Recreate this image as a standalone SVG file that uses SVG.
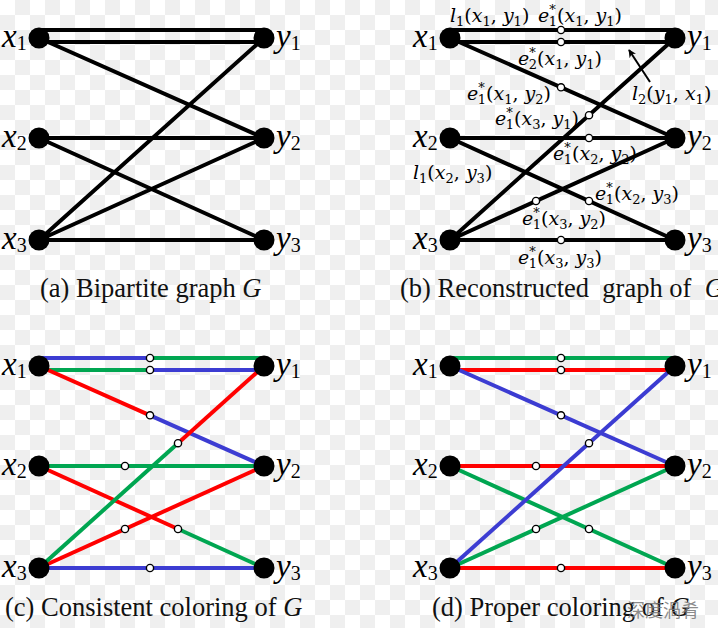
<svg xmlns="http://www.w3.org/2000/svg" width="718" height="628" viewBox="0 0 718 628">
<defs>
<pattern id="chk" x="0" y="0" width="30" height="30" patternUnits="userSpaceOnUse">
<rect width="30" height="30" fill="#ffffff"/>
<rect x="15" y="0" width="15" height="15" fill="#efefef"/>
<rect x="0" y="15" width="15" height="15" fill="#efefef"/>
</pattern>
<marker id="ah" viewBox="0 0 10 10" refX="9" refY="5" markerWidth="8" markerHeight="8" markerUnits="userSpaceOnUse" orient="auto">
<path d="M0,0 L10,5 L0,10 L3,5 Z" fill="#000"/>
</marker>
<style>
.e{fill:none;stroke-width:4;stroke-linecap:butt}
.k{stroke:#000}
.r{stroke:#ff0000}
.g{stroke:#00a651}
.b{stroke:#3c3cd2}
.n{fill:#000}
.c{fill:#fff;stroke:#000;stroke-width:1.4}
.nl{font-family:"Liberation Serif","Times New Roman",serif;font-style:italic;font-size:33px;fill:#000}
.ns{font-style:normal;font-size:20px}
.cap{font-family:"Liberation Serif","Times New Roman",serif;font-size:26.5px;fill:#111}
.lb{font-family:"DejaVu Serif",serif;font-size:19px;fill:#000}
.it{font-style:italic}
.sb{font-size:13px}
.wm{font-family:"Noto Sans CJK SC",sans-serif;font-size:18px;fill:#777;fill-opacity:0.85}
</style>
</defs>
<rect width="718" height="628" fill="url(#chk)"/>

<!-- Panel (a) -->
<g id="panel-a">
<g id="a-connectors">
<path class="e k" d="M39,30 H264 M39,42 H264 M39,38 L264,138 M39,240 L264,38 M39,138 H264 M39,138 L264,240 M39,240 L264,138 M39,240 H264"/>
</g>
<g id="a-x1"><circle class="n" cx="39" cy="38" r="10.5"/><text class="nl" x="2" y="47">x<tspan class="ns" dy="3">1</tspan></text></g>
<g id="a-x2"><circle class="n" cx="39" cy="138" r="10.5"/><text class="nl" x="2" y="147">x<tspan class="ns" dy="3">2</tspan></text></g>
<g id="a-x3"><circle class="n" cx="39" cy="240" r="10.5"/><text class="nl" x="2" y="249">x<tspan class="ns" dy="3">3</tspan></text></g>
<g id="a-y1"><circle class="n" cx="264" cy="38" r="10.5"/><text class="nl" x="276" y="47">y<tspan class="ns" dy="3">1</tspan></text></g>
<g id="a-y2"><circle class="n" cx="264" cy="138" r="10.5"/><text class="nl" x="276" y="147">y<tspan class="ns" dy="3">2</tspan></text></g>
<g id="a-y3"><circle class="n" cx="264" cy="240" r="10.5"/><text class="nl" x="276" y="249">y<tspan class="ns" dy="3">3</tspan></text></g>
<text class="cap" x="40" y="297">(a) Bipartite graph <tspan font-style="italic">G</tspan></text>
</g>

<!-- Panel (b) -->
<g id="panel-b">
<g id="b-connectors">
<path class="e k" d="M450,30 H675 M450,42 H675 M450,38 L675,138 M450,240 L675,38 M450,138 H675 M450,138 L675,240 M450,240 L675,138 M450,240 H675"/>
<path d="M650,82 L629,50" fill="none" stroke="#000" stroke-width="2" marker-end="url(#ah)"/>
<circle class="c" cx="561" cy="30" r="3.6"/>
<circle class="c" cx="561" cy="42" r="3.6"/>
<circle class="c" cx="561" cy="87.3" r="3.6"/>
<circle class="c" cx="589" cy="115.2" r="3.6"/>
<circle class="c" cx="589" cy="138" r="3.6"/>
<circle class="c" cx="589" cy="201" r="3.6"/>
<circle class="c" cx="536" cy="201" r="3.6"/>
<circle class="c" cx="561" cy="240" r="3.6"/>
</g>
<g id="b-x1"><circle class="n" cx="450" cy="38" r="10.5"/><text class="nl" x="413" y="47">x<tspan class="ns" dy="3">1</tspan></text></g>
<g id="b-x2"><circle class="n" cx="450" cy="138" r="10.5"/><text class="nl" x="413" y="147">x<tspan class="ns" dy="3">2</tspan></text></g>
<g id="b-x3"><circle class="n" cx="450" cy="240" r="10.5"/><text class="nl" x="413" y="249">x<tspan class="ns" dy="3">3</tspan></text></g>
<g id="b-y1"><circle class="n" cx="675" cy="38" r="10.5"/><text class="nl" x="687" y="47">y<tspan class="ns" dy="3">1</tspan></text></g>
<g id="b-y2"><circle class="n" cx="675" cy="138" r="10.5"/><text class="nl" x="687" y="147">y<tspan class="ns" dy="3">2</tspan></text></g>
<g id="b-y3"><circle class="n" cx="675" cy="240" r="10.5"/><text class="nl" x="687" y="249">y<tspan class="ns" dy="3">3</tspan></text></g>
<g id="b-labels">
<text class="lb" x="450" y="22"><tspan class="it">l</tspan><tspan class="sb" dy="4">1</tspan><tspan dy="-4">(</tspan><tspan class="it">x</tspan><tspan class="sb" dy="4">1</tspan><tspan dy="-4">, </tspan><tspan class="it">y</tspan><tspan class="sb" dy="4">1</tspan><tspan dy="-4">)</tspan></text>
<text class="lb" x="538" y="22"><tspan class="it">e</tspan><tspan class="sb" dy="-8">*</tspan><tspan class="sb" dx="-7" dy="12">1</tspan><tspan dy="-4">(</tspan><tspan class="it">x</tspan><tspan class="sb" dy="4">1</tspan><tspan dy="-4">, </tspan><tspan class="it">y</tspan><tspan class="sb" dy="4">1</tspan><tspan dy="-4">)</tspan></text>
<text class="lb" x="518" y="65"><tspan class="it">e</tspan><tspan class="sb" dy="-8">*</tspan><tspan class="sb" dx="-7" dy="12">2</tspan><tspan dy="-4">(</tspan><tspan class="it">x</tspan><tspan class="sb" dy="4">1</tspan><tspan dy="-4">, </tspan><tspan class="it">y</tspan><tspan class="sb" dy="4">1</tspan><tspan dy="-4">)</tspan></text>
<text class="lb" x="467" y="100"><tspan class="it">e</tspan><tspan class="sb" dy="-8">*</tspan><tspan class="sb" dx="-7" dy="12">1</tspan><tspan dy="-4">(</tspan><tspan class="it">x</tspan><tspan class="sb" dy="4">1</tspan><tspan dy="-4">, </tspan><tspan class="it">y</tspan><tspan class="sb" dy="4">2</tspan><tspan dy="-4">)</tspan></text>
<text class="lb" x="632" y="100"><tspan class="it">l</tspan><tspan class="sb" dy="4">2</tspan><tspan dy="-4">(</tspan><tspan class="it">y</tspan><tspan class="sb" dy="4">1</tspan><tspan dy="-4">, </tspan><tspan class="it">x</tspan><tspan class="sb" dy="4">1</tspan><tspan dy="-4">)</tspan></text>
<text class="lb" x="495" y="125"><tspan class="it">e</tspan><tspan class="sb" dy="-8">*</tspan><tspan class="sb" dx="-7" dy="12">1</tspan><tspan dy="-4">(</tspan><tspan class="it">x</tspan><tspan class="sb" dy="4">3</tspan><tspan dy="-4">, </tspan><tspan class="it">y</tspan><tspan class="sb" dy="4">1</tspan><tspan dy="-4">)</tspan></text>
<text class="lb" x="553" y="160"><tspan class="it">e</tspan><tspan class="sb" dy="-8">*</tspan><tspan class="sb" dx="-7" dy="12">1</tspan><tspan dy="-4">(</tspan><tspan class="it">x</tspan><tspan class="sb" dy="4">2</tspan><tspan dy="-4">, </tspan><tspan class="it">y</tspan><tspan class="sb" dy="4">2</tspan><tspan dy="-4">)</tspan></text>
<text class="lb" x="413" y="179"><tspan class="it">l</tspan><tspan class="sb" dy="4">1</tspan><tspan dy="-4">(</tspan><tspan class="it">x</tspan><tspan class="sb" dy="4">2</tspan><tspan dy="-4">, </tspan><tspan class="it">y</tspan><tspan class="sb" dy="4">3</tspan><tspan dy="-4">)</tspan></text>
<text class="lb" x="595" y="200"><tspan class="it">e</tspan><tspan class="sb" dy="-8">*</tspan><tspan class="sb" dx="-7" dy="12">1</tspan><tspan dy="-4">(</tspan><tspan class="it">x</tspan><tspan class="sb" dy="4">2</tspan><tspan dy="-4">, </tspan><tspan class="it">y</tspan><tspan class="sb" dy="4">3</tspan><tspan dy="-4">)</tspan></text>
<text class="lb" x="522" y="225"><tspan class="it">e</tspan><tspan class="sb" dy="-8">*</tspan><tspan class="sb" dx="-7" dy="12">1</tspan><tspan dy="-4">(</tspan><tspan class="it">x</tspan><tspan class="sb" dy="4">3</tspan><tspan dy="-4">, </tspan><tspan class="it">y</tspan><tspan class="sb" dy="4">2</tspan><tspan dy="-4">)</tspan></text>
<text class="lb" x="518" y="264"><tspan class="it">e</tspan><tspan class="sb" dy="-8">*</tspan><tspan class="sb" dx="-7" dy="12">1</tspan><tspan dy="-4">(</tspan><tspan class="it">x</tspan><tspan class="sb" dy="4">3</tspan><tspan dy="-4">, </tspan><tspan class="it">y</tspan><tspan class="sb" dy="4">3</tspan><tspan dy="-4">)</tspan></text>
</g>
<text class="cap" x="400" y="297" xml:space="preserve">(b) Reconstructed  graph of  <tspan font-style="italic">G</tspan></text>
</g>

<!-- Panel (c) -->
<g id="panel-c">
<g id="c-connectors">
<path class="e b" d="M39,358 H150"/><path class="e g" d="M150,358 H264"/>
<path class="e g" d="M39,370 H150"/><path class="e b" d="M150,370 H264"/>
<path class="e r" d="M39,366 L150,415.3"/><path class="e b" d="M150,415.3 L264,466"/>
<path class="e g" d="M39,466 H264"/>
<path class="e r" d="M39,466 L178,529"/><path class="e g" d="M178,529 L264,568"/>
<path class="e r" d="M39,568 L264,466"/>
<path class="e g" d="M39,568 L178,443.2"/><path class="e r" d="M178,443.2 L264,366"/>
<path class="e b" d="M39,568 H264"/>
<circle class="c" cx="150" cy="358" r="3.6"/>
<circle class="c" cx="150" cy="370" r="3.6"/>
<circle class="c" cx="150" cy="415.3" r="3.6"/>
<circle class="c" cx="178" cy="443.2" r="3.6"/>
<circle class="c" cx="125" cy="466" r="3.6"/>
<circle class="c" cx="178" cy="529" r="3.6"/>
<circle class="c" cx="125" cy="529" r="3.6"/>
<circle class="c" cx="150" cy="568" r="3.6"/>
</g>
<g id="c-x1"><circle class="n" cx="39" cy="366" r="10.5"/><text class="nl" x="2" y="375">x<tspan class="ns" dy="3">1</tspan></text></g>
<g id="c-x2"><circle class="n" cx="39" cy="466" r="10.5"/><text class="nl" x="2" y="475">x<tspan class="ns" dy="3">2</tspan></text></g>
<g id="c-x3"><circle class="n" cx="39" cy="568" r="10.5"/><text class="nl" x="2" y="577">x<tspan class="ns" dy="3">3</tspan></text></g>
<g id="c-y1"><circle class="n" cx="264" cy="366" r="10.5"/><text class="nl" x="276" y="375">y<tspan class="ns" dy="3">1</tspan></text></g>
<g id="c-y2"><circle class="n" cx="264" cy="466" r="10.5"/><text class="nl" x="276" y="475">y<tspan class="ns" dy="3">2</tspan></text></g>
<g id="c-y3"><circle class="n" cx="264" cy="568" r="10.5"/><text class="nl" x="276" y="577">y<tspan class="ns" dy="3">3</tspan></text></g>
<text class="cap" x="5" y="616">(c) Consistent coloring of <tspan font-style="italic">G</tspan></text>
</g>

<!-- Panel (d) -->
<g id="panel-d">
<g id="d-connectors">
<path class="e g" d="M450,358 H675"/>
<path class="e r" d="M450,370 H675"/>
<path class="e b" d="M450,366 L675,466"/>
<path class="e r" d="M450,466 H675"/>
<path class="e g" d="M450,466 L675,568"/>
<path class="e g" d="M450,568 L675,466"/>
<path class="e b" d="M450,568 L675,366"/>
<path class="e r" d="M450,568 H675"/>
<circle class="c" cx="561" cy="358" r="3.6"/>
<circle class="c" cx="561" cy="370" r="3.6"/>
<circle class="c" cx="561" cy="415.3" r="3.6"/>
<circle class="c" cx="589" cy="443.2" r="3.6"/>
<circle class="c" cx="536" cy="466" r="3.6"/>
<circle class="c" cx="589" cy="529" r="3.6"/>
<circle class="c" cx="536" cy="529" r="3.6"/>
<circle class="c" cx="561" cy="568" r="3.6"/>
</g>
<g id="d-x1"><circle class="n" cx="450" cy="366" r="10.5"/><text class="nl" x="413" y="375">x<tspan class="ns" dy="3">1</tspan></text></g>
<g id="d-x2"><circle class="n" cx="450" cy="466" r="10.5"/><text class="nl" x="413" y="475">x<tspan class="ns" dy="3">2</tspan></text></g>
<g id="d-x3"><circle class="n" cx="450" cy="568" r="10.5"/><text class="nl" x="413" y="577">x<tspan class="ns" dy="3">3</tspan></text></g>
<g id="d-y1"><circle class="n" cx="675" cy="366" r="10.5"/><text class="nl" x="687" y="375">y<tspan class="ns" dy="3">1</tspan></text></g>
<g id="d-y2"><circle class="n" cx="675" cy="466" r="10.5"/><text class="nl" x="687" y="475">y<tspan class="ns" dy="3">2</tspan></text></g>
<g id="d-y3"><circle class="n" cx="675" cy="568" r="10.5"/><text class="nl" x="687" y="577">y<tspan class="ns" dy="3">3</tspan></text></g>
<text class="cap" x="432" y="616">(d) Proper coloring of <tspan font-style="italic">G</tspan></text>
</g>
<text class="wm" x="627" y="617">深度渦肴</text>
</svg>
